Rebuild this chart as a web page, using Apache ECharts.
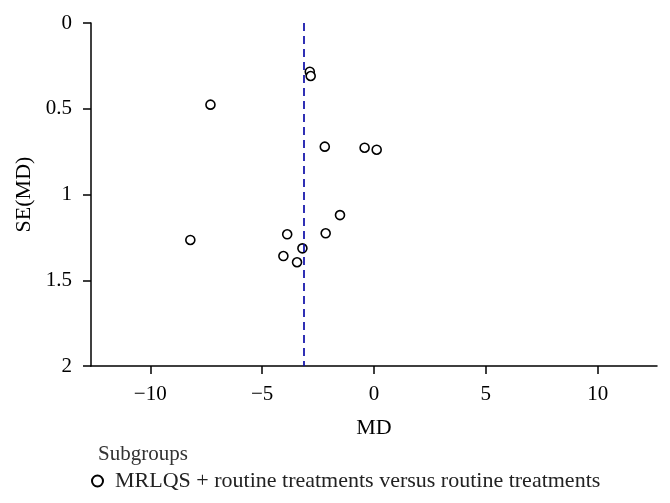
<!DOCTYPE html>
<html>
<head>
<meta charset="utf-8">
<script src="https://cdn.jsdelivr.net/npm/echarts@6/dist/echarts.min.js"></script>
<style>html,body{margin:0;padding:0;background:#fff;}#c{width:670px;height:503px;}</style>
</head>
<body>
<div id="c"></div>
<script>
const md = [-2.87, -2.83, -7.31, -2.20, -0.42, 0.12, -1.52, -2.16, -3.88, -3.20, -4.05, -3.44, -8.21];
const se = [0.284, 0.309, 0.476, 0.721, 0.727, 0.739, 1.12, 1.226, 1.232, 1.314, 1.359, 1.395, 1.265];
const pooledMD = -3.15;
const xTicks = [-10, -5, 0, 5, 10];
const seriesName = 'MRLQS + routine treatments versus routine treatments';
const legendTitle = 'Subgroups';
const xTitle = 'MD';
const yTitle = 'SE(MD)';

const FONT = '"Liberation Serif", "Times New Roman", serif';
const points = md.map((v, i) => [v, se[i]]);

const chart = echarts.init(document.getElementById('c'), null, {renderer: 'canvas'});
chart.setOption({
  animation: false,
  backgroundColor: '#fff',
  grid: {left: 91, right: 13, top: 23, bottom: 137, containLabel: false, outerBoundsMode: 'none'},
  title: {
    text: legendTitle, left: 98, top: 444, padding: 0,
    textStyle: {fontFamily: FONT, fontSize: 21, fontWeight: 'normal', color: '#333'}
  },
  legend: {
    data: [seriesName], left: 91, top: 470, padding: 0, itemWidth: 11, itemHeight: 11,
    icon: 'circle',
    textStyle: {fontFamily: FONT, fontSize: 22, color: '#222', padding: [0, 0, 0, 7]}
  },
  xAxis: {
    type: 'value', min: -12.65, max: 12.65,
    name: xTitle, nameLocation: 'middle', nameGap: 51,
    nameTextStyle: {fontFamily: FONT, fontSize: 22, color: '#000'},
    axisLine: {show: true, onZero: false, lineStyle: {color: '#000', width: 1.5}},
    axisTick: {show: true, length: 8, customValues: xTicks, lineStyle: {color: '#000', width: 1.5}},
    axisLabel: {customValues: xTicks, margin: 18, fontFamily: FONT, fontSize: 21, color: '#000',
      formatter: v => (v < 0 ? '\u2212' + Math.abs(v) : String(v))},
    splitLine: {show: false}
  },
  yAxis: {
    type: 'value', inverse: true, min: 0, max: 2, interval: 0.5,
    name: yTitle, nameLocation: 'middle', nameGap: 56, nameRotate: 90,
    nameTextStyle: {fontFamily: FONT, fontSize: 22, color: '#000'},
    axisLine: {show: true, onZero: false, lineStyle: {color: '#000', width: 1.5}},
    axisTick: {show: true, length: 8, lineStyle: {color: '#000', width: 1.5}},
    axisLabel: {margin: 19, fontFamily: FONT, fontSize: 21, color: '#000'},
    splitLine: {show: false}
  },
  series: [{
    name: seriesName,
    type: 'scatter',
    data: points,
    symbol: 'circle',
    symbolSize: 9,
    itemStyle: {color: '#fff', borderColor: '#000', borderWidth: 1.6, opacity: 1},
    silent: true,
    markLine: {
      silent: true, symbol: ['none', 'none'], label: {show: false},
      lineStyle: {color: '#0c0ca8', type: [8, 5], width: 1.7},
      data: [{xAxis: pooledMD}]
    },
    z: 3
  }]
});
</script>
</body>
</html>
